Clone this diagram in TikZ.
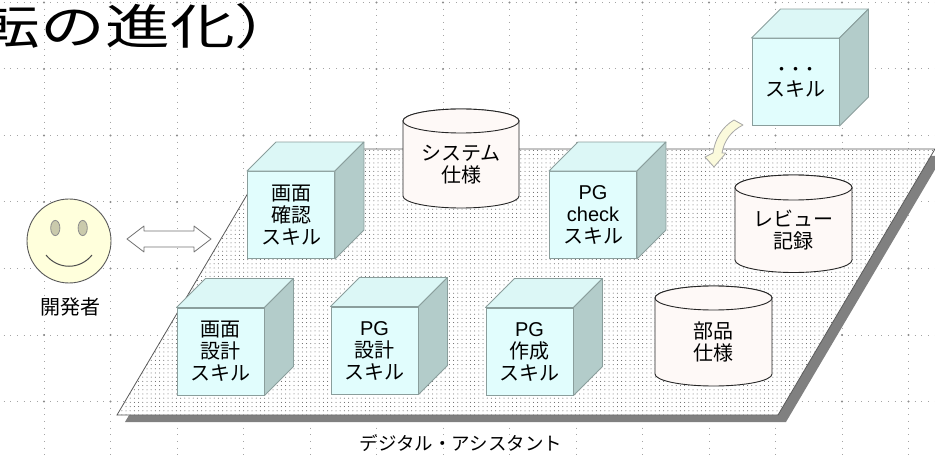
\documentclass[tikz,border=0pt]{standalone}
\usepackage{fontspec}
\setmainfont{Noto Sans CJK JP}[BoldFont={Noto Sans CJK JP Bold}]
\newfontfamily\latinsans{Liberation Sans}
\usetikzlibrary{patterns.meta}

\definecolor{gridgray}{HTML}{A4A4A4}
\definecolor{cubefront}{HTML}{E1FDFD}
\definecolor{cubetop}{HTML}{DCF7F6}
\definecolor{cubeside}{HTML}{B3CCCA}
\definecolor{cubeline}{HTML}{8A9E9C}
\definecolor{drumfill}{HTML}{FEF9F7}
\definecolor{drumline}{HTML}{262626}
\definecolor{facefill}{HTML}{FFFFDC}
\definecolor{eyefill}{HTML}{CACAAC}
\definecolor{arrowfill}{HTML}{FBFADC}
\definecolor{shadowgray}{HTML}{808080}

% a skill cube: front face node plus top and side faces
\newcommand\skillcube[3]{%
  \node[cubeface] (#1) at #2 {#3};
  \filldraw[cubetopface] (#1.north west) -- ++(29,-29)
     -- ([shift={(29,-29)}]#1.north east) -- (#1.north east) -- cycle;
  \filldraw[cubesideface] (#1.north east) -- ++(29,-29)
     -- ([shift={(29,-29)}]#1.south east) -- (#1.south east) -- cycle;
}
% a data drum: centre x, top y, bottom y, radii, name, text
% (y grows downwards here, so the lower rim runs through +90 degrees)
\newcommand\datadrum[7]{%
  \filldraw[drum] ({#1-#4},#2) -- ({#1-#4},#3)
     arc[start angle=180,end angle=0,x radius=#4,y radius=#5]
     -- ({#1+#4},#2)
     arc[start angle=0,end angle=-180,x radius=#4,y radius=#5] -- cycle;
  \draw[drum] (#1,#2) ellipse[x radius=#4,y radius=#5];
  \node[drumtext] (#6) at (#1,{(#2+#3)/2+#5/2}) {#7};
}
\newcommand\lat[1]{{\latinsans\fontsize{20}{22}\selectfont #1}}

\begin{document}
\begin{tikzpicture}[x=1pt,y=-1pt,
  gridline/.style={gridgray,line width=1pt,dash pattern=on 1pt off 5.65pt},
  cubeface/.style={draw=cubeline,fill=cubefront,line width=0.9pt,
    minimum width=87pt,minimum height=87pt,inner sep=0pt,align=center,
    font=\fontsize{20}{22}\selectfont},
  cubetopface/.style={draw=cubeline,fill=cubetop,line width=0.9pt,line join=round},
  cubesideface/.style={draw=cubeline,fill=cubeside,line width=0.9pt,line join=round},
  drum/.style={draw=drumline,fill=drumfill,line width=0.9pt},
  drumtext/.style={inner sep=0pt,align=center,font=\fontsize{20}{22}\selectfont},
  label/.style={inner sep=0pt,font=\fontsize{18.5}{20}\selectfont},
]
\useasboundingbox (0,0) rectangle (935,457);
\clip (0,0) rectangle (935,457);

% dotted background grid
\foreach \k in {0,...,13}
  \draw[gridline] ({44+66.5*\k},-64.5) -- ({44+66.5*\k},470);
\foreach \j in {0,...,6}
  \draw[gridline] (-23,{2.5+66.5*\j}) -- (960,{2.5+66.5*\j});
\foreach \k in {0,...,13}
  \foreach \j in {0,...,6}
    \fill[gridgray!85!black] ({44+66.5*\k},{2.5+66.5*\j}) circle (1.1);

% heading
\node[anchor=base west,inner sep=0pt] (title) at (-24.5,45)
  {\scalebox{1.35}[1]{\fontsize{48}{48}\selectfont 転の進化）}};

% platform with its shadow
\fill[shadowgray] (282,156) -- (943,156) -- (786,422) -- (125,422) -- cycle;
\fill[white] (274,149) -- (935,149) -- (778,415) -- (117,415) -- cycle;
\fill[pattern={Dots[distance=4.2pt,radius=0.5pt]},pattern color=black!65]
  (274,149) -- (935,149) -- (778,415) -- (117,415) -- cycle;
\draw[black!65,line width=0.8pt] (274,149) -- (935,149) -- (778,415) -- (117,415) -- cycle;
\node[label] (platform) at (461,443) {デジタル・アシスタント};

% developer
\node[circle,draw=black!65,fill=facefill,line width=0.9pt,minimum size=84pt,inner sep=0pt] (dev) at (69,241) {};
\begin{scope}[shift={(dev.center)}]
  \filldraw[draw=black!45,fill=eyefill,line width=0.8pt] (-13.7,-13) ellipse[x radius=4.6,y radius=7.6];
  \filldraw[draw=black!45,fill=eyefill,line width=0.8pt] (13.7,-13) ellipse[x radius=4.6,y radius=7.6];
  \draw[black!70,line width=1pt] (-23,14) .. controls (-11,29) and (11,29) .. (23,14);
\end{scope}
\node[label,font=\fontsize{20}{22}\selectfont] (devlabel) at (70,307) {開発者};

% exchange arrow between developer and assistant
\filldraw[draw=black!55,fill=white,line width=0.8pt,line join=round]
  (127,239) -- (144,226) -- (144,231) -- (194,231) -- (194,226) -- (211,239)
  -- (194,252) -- (194,247) -- (144,247) -- (144,252) -- cycle;

% skills and data stores
\skillcube{screencheck}{(291,215)}{画面\\確認\\スキル}
\datadrum{461}{121}{196}{58}{12}{syspec}{システム\\仕様}
\skillcube{pgcheck}{(593,215)}{\lat{PG}\\\lat{check}\\スキル}
\datadrum{793.5}{187.5}{260}{58.5}{12.5}{review}{レビュー\\記録}
\skillcube{screendesign}{(220.5,351.5)}{画面\\設計\\スキル}
\skillcube{pgdesign}{(374.5,350.5)}{\lat{PG}\\設計\\スキル}
\skillcube{pgmake}{(529.5,351.5)}{\lat{PG}\\作成\\スキル}
\datadrum{713.5}{298}{374}{58.5}{12}{partspec}{部品\\仕様}

% additional skill joining the assistant
\skillcube{more}{(795.5,82)}{{\fontsize{14}{22}\selectfont\bfseries ・・・}\\スキル}
\filldraw[draw=black!35,fill=arrowfill,line width=0.8pt,line join=round]
  (734,120) .. controls (722,127) and (715,139) .. (713,153) -- (705,157)
  -- (714,167) -- (726,153) -- (722,153)
  .. controls (724,141) and (731,131) .. (743,125) -- cycle;
\end{tikzpicture}
\end{document}
